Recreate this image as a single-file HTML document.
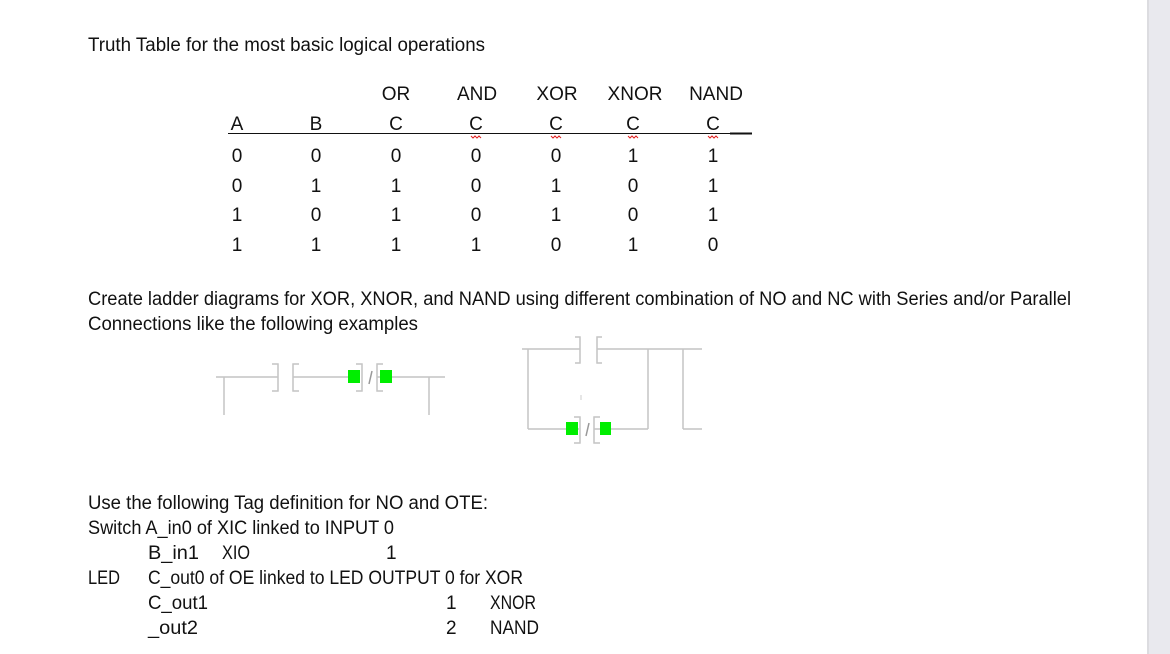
<!DOCTYPE html>
<html><head><meta charset="utf-8"><style>
html,body{margin:0;padding:0;background:#fff}
svg{display:block}
text{font-family:"Liberation Sans",sans-serif;font-size:19px;fill:#111}
.c{text-anchor:middle}
</style></head><body>
<svg width="1170" height="654" viewBox="0 0 1170 654" xmlns="http://www.w3.org/2000/svg">
<rect x="0" y="0" width="1170" height="654" fill="#fff"/>
<rect x="1147" y="0" width="23" height="654" fill="#e9e9ee"/>
<rect x="1147" y="0" width="2" height="654" fill="#dcdce0"/>

<text x="88" y="51" textLength="397" lengthAdjust="spacingAndGlyphs">Truth Table for the most basic logical operations</text>

<g class="tbl">
<text class="c" x="396" y="100">OR</text>
<text class="c" x="477" y="100">AND</text>
<text class="c" x="557" y="100">XOR</text>
<text class="c" x="635" y="100">XNOR</text>
<text class="c" x="716" y="100">NAND</text>
<text class="c" x="237" y="130">A</text>
<text class="c" x="316" y="130">B</text>
<text class="c" x="396" y="130">C</text>
<text class="c" x="476" y="130">C</text>
<text class="c" x="556" y="130">C</text>
<text class="c" x="633" y="130">C</text>
<text class="c" x="713" y="130">C</text>
<line x1="228" y1="133.5" x2="745" y2="133.5" stroke="#111" stroke-width="1"/>
<line x1="730" y1="133.5" x2="752" y2="133.5" stroke="#111" stroke-width="2"/>
<g fill="none" stroke="#e02020" stroke-width="1">
<path d="M471 136 l2 2 l2 -2 l2 2 l2 -2 l2 2"/>
<path d="M551 136 l2 2 l2 -2 l2 2 l2 -2 l2 2"/>
<path d="M628 136 l2 2 l2 -2 l2 2 l2 -2 l2 2"/>
<path d="M708 136 l2 2 l2 -2 l2 2 l2 -2 l2 2"/>
</g>
</g>
<g>
<text class="c" x="237" y="162">0</text><text class="c" x="316" y="162">0</text><text class="c" x="396" y="162">0</text><text class="c" x="476" y="162">0</text><text class="c" x="556" y="162">0</text><text class="c" x="633" y="162">1</text><text class="c" x="713" y="162">1</text>
<text class="c" x="237" y="192">0</text><text class="c" x="316" y="192">1</text><text class="c" x="396" y="192">1</text><text class="c" x="476" y="192">0</text><text class="c" x="556" y="192">1</text><text class="c" x="633" y="192">0</text><text class="c" x="713" y="192">1</text>
<text class="c" x="237" y="221">1</text><text class="c" x="316" y="221">0</text><text class="c" x="396" y="221">1</text><text class="c" x="476" y="221">0</text><text class="c" x="556" y="221">1</text><text class="c" x="633" y="221">0</text><text class="c" x="713" y="221">1</text>
<text class="c" x="237" y="251">1</text><text class="c" x="316" y="251">1</text><text class="c" x="396" y="251">1</text><text class="c" x="476" y="251">1</text><text class="c" x="556" y="251">0</text><text class="c" x="633" y="251">1</text><text class="c" x="713" y="251">0</text>
</g>

<text x="88" y="305" textLength="983" lengthAdjust="spacingAndGlyphs">Create ladder diagrams for XOR, XNOR, and NAND using different combination of NO and NC with Series and/or Parallel</text>
<text x="88" y="330" textLength="330" lengthAdjust="spacingAndGlyphs">Connections like the following examples</text>

<g fill="none" stroke="#c4c4c4" stroke-width="1.5">
<line x1="216" y1="377" x2="278" y2="377"/>
<line x1="224" y1="377" x2="224" y2="415"/>
<path d="M272 364 h6 v27 h-6"/>
<path d="M299 364 h-6 v27 h6"/>
<line x1="293" y1="377" x2="358" y2="377"/>
<path d="M356 364 h6 v27 h-6"/>
<line x1="369" y1="384" x2="372" y2="371" stroke="#999"/>
<path d="M383 364 h-6 v27 h6"/>
<line x1="377" y1="377" x2="445" y2="377"/>
<line x1="429" y1="377" x2="429" y2="415"/>
</g>
<rect x="348" y="370" width="12" height="13" fill="#00ee00"/>
<rect x="380" y="370" width="12" height="13" fill="#00ee00"/>

<g fill="none" stroke="#c4c4c4" stroke-width="1.5">
<line x1="522" y1="349" x2="580" y2="349"/>
<path d="M575 337 h5 v26 h-5"/>
<path d="M602 337 h-5 v26 h5"/>
<line x1="597" y1="349" x2="702" y2="349"/>
<line x1="528" y1="349" x2="528" y2="429"/>
<line x1="648" y1="349" x2="648" y2="429"/>
<line x1="528" y1="429" x2="579" y2="429"/>
<path d="M574 417 h6 v26 h-6"/>
<line x1="586" y1="436" x2="589" y2="423" stroke="#999"/>
<path d="M600 417 h-6 v26 h6"/>
<line x1="594" y1="429" x2="648" y2="429"/>
<line x1="683" y1="349" x2="683" y2="429"/>
<line x1="683" y1="429" x2="702" y2="429"/>
<line x1="581" y1="395" x2="581" y2="400" stroke="#ddd"/>
</g>
<rect x="566" y="422" width="12" height="13" fill="#00ee00"/>
<rect x="600" y="422" width="11" height="13" fill="#00ee00"/>

<text x="88" y="509" textLength="400" lengthAdjust="spacingAndGlyphs">Use the following Tag definition for NO and OTE:</text>
<text x="88" y="534" textLength="306" lengthAdjust="spacingAndGlyphs">Switch A_in0 of XIC linked to INPUT 0</text>
<text x="148" y="559" textLength="51" lengthAdjust="spacingAndGlyphs">B_in1</text>
<text x="222" y="559" textLength="28" lengthAdjust="spacingAndGlyphs">XIO</text>
<text x="386" y="559">1</text>
<text x="88" y="584" textLength="32" lengthAdjust="spacingAndGlyphs">LED</text>
<text x="148" y="584" textLength="375" lengthAdjust="spacingAndGlyphs">C_out0 of OE linked to LED OUTPUT 0 for XOR</text>
<text x="148" y="609" textLength="60" lengthAdjust="spacingAndGlyphs">C_out1</text>
<text x="446" y="609">1</text>
<text x="490" y="609" textLength="46" lengthAdjust="spacingAndGlyphs">XNOR</text>
<text x="148" y="634" textLength="50" lengthAdjust="spacingAndGlyphs">_out2</text>
<text x="446" y="634">2</text>
<text x="490" y="634" textLength="49" lengthAdjust="spacingAndGlyphs">NAND</text>
</svg>
</body></html>
